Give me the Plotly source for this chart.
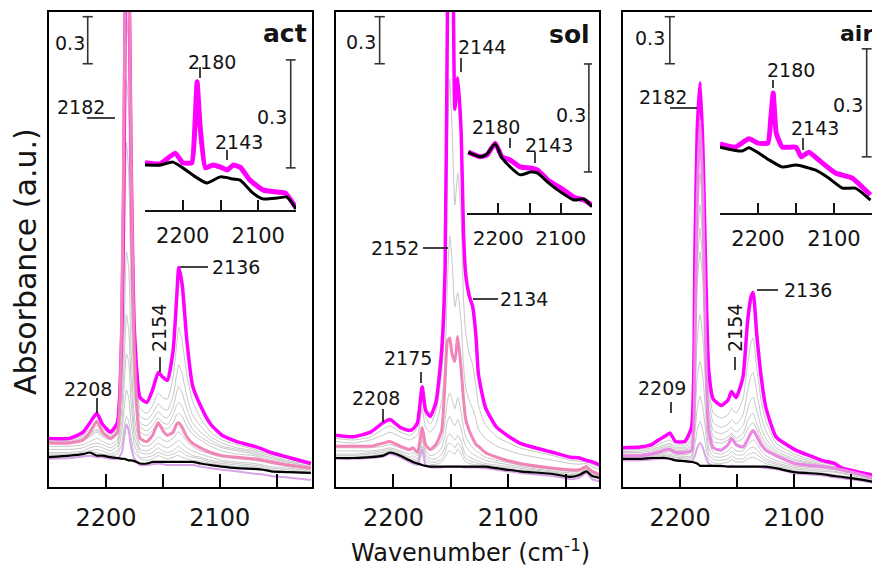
import plotly.graph_objects as go

# ---------------- data (absorbance, a.u.) ----------------
WN_ACT = [2250, 2232, 2220, 2214, 2208, 2203, 2196, 2190, 2186, 2184, 2182, 2180, 2178, 2175, 2170, 2164, 2159, 2154,
          2150, 2146, 2141, 2138, 2136, 2133, 2129, 2124, 2117, 2108, 2098, 2085, 2070, 2062, 2055, 2040, 2020]
ACT_MAGENTA = [0.31, 0.31, 0.35, 0.41, 0.47, 0.40, 0.35, 0.41, 1.00, 2.15, 3.75, 3.43, 2.15, 1.00, 0.57, 0.54, 0.62, 0.73,
               0.70, 0.68, 0.87, 1.19, 1.40, 1.29, 0.94, 0.65, 0.52, 0.40, 0.33, 0.29, 0.26, 0.24, 0.22, 0.19, 0.15]
ACT_PINK = [0.28, 0.28, 0.30, 0.35, 0.42, 0.35, 0.31, 0.35, 1.19, 2.47, 3.75, 3.43, 2.15, 0.87, 0.31, 0.29, 0.33, 0.41,
            0.36, 0.33, 0.35, 0.40, 0.41, 0.38, 0.32, 0.28, 0.25, 0.22, 0.20, 0.19, 0.18, 0.17, 0.16, 0.14, 0.12]
ACT_BLACK = [0.19, 0.20, 0.21, 0.22, 0.20, 0.20, 0.19, 0.185, 0.18, 0.18, 0.175, 0.17, 0.17, 0.165, 0.15, 0.15, 0.16, 0.16,
             0.16, 0.16, 0.16, 0.16, 0.16, 0.16, 0.16, 0.16, 0.15, 0.14, 0.13, 0.12, 0.115, 0.11, 0.10, 0.095, 0.09]
ACT_LAVENDER = [0.18, 0.185, 0.195, 0.20, 0.19, 0.19, 0.18, 0.18, 0.22, 0.32, 0.40, 0.36, 0.26, 0.18, 0.14, 0.14, 0.145, 0.15,
                0.145, 0.14, 0.14, 0.14, 0.14, 0.14, 0.14, 0.14, 0.13, 0.12, 0.11, 0.10, 0.085, 0.08, 0.07, 0.06, 0.045]
ACT_GRAYS = [
    [0.30, 0.30, 0.33, 0.37, 0.42, 0.37, 0.34, 0.40, 1.0, 2.2, 3.6, 3.3, 2.0, 0.9, 0.50, 0.47, 0.52, 0.60, 0.57, 0.56, 0.70, 0.90, 1.02, 0.93, 0.72, 0.55, 0.44, 0.35, 0.30, 0.27, 0.24, 0.22, 0.21, 0.18, 0.15],
    [0.29, 0.29, 0.32, 0.35, 0.39, 0.35, 0.33, 0.38, 0.95, 2.0, 3.4, 3.1, 1.9, 0.85, 0.45, 0.43, 0.47, 0.53, 0.50, 0.49, 0.58, 0.71, 0.78, 0.72, 0.58, 0.46, 0.39, 0.32, 0.28, 0.25, 0.23, 0.21, 0.20, 0.17, 0.14],
    [0.29, 0.29, 0.31, 0.34, 0.37, 0.34, 0.32, 0.36, 0.9, 1.8, 3.0, 2.8, 1.7, 0.8, 0.41, 0.39, 0.43, 0.48, 0.45, 0.44, 0.51, 0.60, 0.64, 0.60, 0.50, 0.41, 0.35, 0.30, 0.26, 0.24, 0.22, 0.20, 0.19, 0.16, 0.13],
    [0.28, 0.28, 0.30, 0.33, 0.36, 0.33, 0.31, 0.35, 0.85, 1.6, 2.6, 2.4, 1.5, 0.7, 0.38, 0.36, 0.39, 0.44, 0.41, 0.40, 0.46, 0.52, 0.54, 0.51, 0.44, 0.37, 0.32, 0.28, 0.25, 0.23, 0.21, 0.19, 0.18, 0.16, 0.13],
    [0.28, 0.28, 0.30, 0.32, 0.35, 0.32, 0.30, 0.34, 0.8, 1.4, 2.2, 2.0, 1.3, 0.6, 0.35, 0.33, 0.36, 0.41, 0.38, 0.37, 0.41, 0.46, 0.47, 0.45, 0.39, 0.34, 0.30, 0.26, 0.23, 0.21, 0.20, 0.18, 0.17, 0.15, 0.12],
    [0.26, 0.26, 0.27, 0.29, 0.31, 0.29, 0.27, 0.30, 0.6, 1.0, 1.5, 1.4, 0.9, 0.45, 0.27, 0.26, 0.28, 0.32, 0.30, 0.29, 0.31, 0.34, 0.35, 0.33, 0.29, 0.26, 0.23, 0.21, 0.19, 0.18, 0.17, 0.16, 0.15, 0.13, 0.11],
    [0.24, 0.24, 0.25, 0.27, 0.28, 0.27, 0.25, 0.28, 0.5, 0.8, 1.1, 1.0, 0.7, 0.38, 0.24, 0.23, 0.25, 0.28, 0.26, 0.25, 0.27, 0.29, 0.30, 0.28, 0.25, 0.23, 0.21, 0.19, 0.17, 0.16, 0.15, 0.14, 0.13, 0.12, 0.10],
    [0.22, 0.22, 0.23, 0.25, 0.26, 0.25, 0.23, 0.26, 0.42, 0.65, 0.85, 0.8, 0.55, 0.32, 0.22, 0.21, 0.22, 0.25, 0.23, 0.22, 0.23, 0.25, 0.26, 0.24, 0.22, 0.20, 0.19, 0.17, 0.16, 0.15, 0.14, 0.13, 0.12, 0.11, 0.09],
    [0.21, 0.21, 0.22, 0.23, 0.24, 0.23, 0.21, 0.23, 0.35, 0.5, 0.62, 0.57, 0.42, 0.27, 0.19, 0.19, 0.20, 0.22, 0.21, 0.20, 0.21, 0.22, 0.23, 0.22, 0.20, 0.19, 0.18, 0.16, 0.15, 0.14, 0.13, 0.12, 0.11, 0.10, 0.09],
    [0.20, 0.20, 0.21, 0.22, 0.22, 0.21, 0.20, 0.21, 0.28, 0.38, 0.45, 0.42, 0.32, 0.22, 0.18, 0.17, 0.18, 0.20, 0.19, 0.18, 0.19, 0.20, 0.20, 0.19, 0.18, 0.17, 0.165, 0.15, 0.14, 0.13, 0.12, 0.11, 0.10, 0.095, 0.085],
]

WN_SOL = [2250, 2235, 2220, 2209, 2203, 2194, 2186, 2183, 2179, 2175, 2172, 2168, 2163, 2158, 2155, 2153, 2151, 2149,
          2146.5, 2144, 2141, 2139, 2137, 2134, 2131, 2128, 2126, 2120, 2110, 2090, 2061, 2046, 2038, 2032, 2027, 2020]
SOL_MAGENTA = [0.33, 0.32, 0.35, 0.41, 0.43, 0.38, 0.36, 0.37, 0.41, 0.64, 0.49, 0.45, 0.54, 0.87, 1.40, 2.98, 3.80, 3.70,
               2.41, 2.61, 2.26, 1.62, 1.35, 1.22, 1.15, 0.95, 0.72, 0.51, 0.38, 0.28, 0.22, 0.19, 0.185, 0.17, 0.16, 0.14]
SOL_PINK = [0.26, 0.26, 0.26, 0.28, 0.29, 0.26, 0.24, 0.25, 0.22, 0.38, 0.27, 0.24, 0.27, 0.36, 0.68, 0.93, 0.95, 0.85,
            0.80, 0.96, 0.75, 0.56, 0.43, 0.36, 0.31, 0.27, 0.26, 0.22, 0.19, 0.15, 0.12, 0.11, 0.11, 0.13, 0.10, 0.077]
SOL_BLACK = [0.185, 0.185, 0.19, 0.20, 0.22, 0.20, 0.17, 0.16, 0.15, 0.14, 0.135, 0.13, 0.13, 0.13, 0.13, 0.13, 0.13, 0.13,
             0.13, 0.13, 0.13, 0.13, 0.13, 0.13, 0.13, 0.13, 0.13, 0.13, 0.12, 0.10, 0.083, 0.064, 0.077, 0.10, 0.07, 0.057]
SOL_LAVENDER = [0.18, 0.18, 0.185, 0.195, 0.21, 0.19, 0.16, 0.15, 0.14, 0.24, 0.14, 0.125, 0.125, 0.125, 0.13, 0.13, 0.13, 0.13,
                0.13, 0.13, 0.13, 0.125, 0.125, 0.125, 0.125, 0.125, 0.125, 0.12, 0.11, 0.09, 0.07, 0.05, 0.06, 0.09, 0.05, 0.035]
SOL_GRAYS = [
    [0.31, 0.30, 0.32, 0.37, 0.39, 0.35, 0.33, 0.34, 0.38, 0.56, 0.45, 0.40, 0.48, 0.72, 1.10, 2.20, 2.60, 2.30, 1.80, 2.00, 1.70, 1.20, 0.98, 0.85, 0.78, 0.64, 0.52, 0.40, 0.32, 0.25, 0.20, 0.17, 0.165, 0.16, 0.145, 0.125],
    [0.29, 0.28, 0.30, 0.33, 0.35, 0.32, 0.30, 0.31, 0.33, 0.50, 0.38, 0.35, 0.40, 0.55, 0.80, 1.30, 1.60, 1.45, 1.15, 1.24, 1.05, 0.78, 0.63, 0.55, 0.50, 0.43, 0.37, 0.31, 0.26, 0.21, 0.17, 0.15, 0.145, 0.15, 0.13, 0.11],
    [0.25, 0.25, 0.25, 0.26, 0.27, 0.25, 0.23, 0.24, 0.22, 0.38, 0.27, 0.23, 0.25, 0.30, 0.42, 0.55, 0.60, 0.56, 0.50, 0.57, 0.48, 0.38, 0.32, 0.28, 0.25, 0.23, 0.22, 0.19, 0.17, 0.14, 0.11, 0.10, 0.10, 0.12, 0.09, 0.07],
    [0.23, 0.23, 0.23, 0.24, 0.25, 0.23, 0.21, 0.22, 0.20, 0.36, 0.24, 0.20, 0.21, 0.25, 0.33, 0.42, 0.45, 0.42, 0.39, 0.43, 0.37, 0.30, 0.26, 0.23, 0.21, 0.20, 0.19, 0.17, 0.155, 0.13, 0.10, 0.09, 0.09, 0.115, 0.085, 0.065],
    [0.21, 0.21, 0.22, 0.23, 0.24, 0.22, 0.19, 0.20, 0.18, 0.33, 0.21, 0.18, 0.18, 0.21, 0.26, 0.32, 0.34, 0.32, 0.30, 0.33, 0.29, 0.24, 0.21, 0.19, 0.18, 0.17, 0.165, 0.15, 0.14, 0.12, 0.095, 0.08, 0.085, 0.11, 0.08, 0.062],
    [0.20, 0.20, 0.21, 0.22, 0.23, 0.21, 0.18, 0.18, 0.17, 0.30, 0.19, 0.16, 0.16, 0.18, 0.22, 0.27, 0.28, 0.27, 0.25, 0.28, 0.25, 0.21, 0.18, 0.17, 0.16, 0.155, 0.15, 0.14, 0.13, 0.11, 0.09, 0.075, 0.08, 0.105, 0.075, 0.06],
    [0.19, 0.19, 0.20, 0.21, 0.22, 0.20, 0.175, 0.17, 0.16, 0.26, 0.17, 0.145, 0.145, 0.16, 0.19, 0.22, 0.23, 0.22, 0.21, 0.24, 0.21, 0.18, 0.16, 0.15, 0.145, 0.14, 0.14, 0.135, 0.125, 0.105, 0.086, 0.07, 0.078, 0.10, 0.072, 0.058],
]

WN_AIR = [2252, 2235, 2225, 2219, 2213, 2209, 2204, 2196, 2190, 2187, 2185, 2182.5, 2180, 2178, 2175, 2171, 2164,
          2158, 2155, 2151, 2145, 2141, 2138, 2136, 2133, 2129, 2125, 2116, 2100, 2076, 2065, 2058, 2040, 2025]
AIR_MAGENTA = [0.25, 0.255, 0.27, 0.30, 0.325, 0.345, 0.29, 0.29, 0.38, 1.51, 2.28, 2.58, 2.15, 1.51, 0.75, 0.56, 0.52,
               0.555, 0.61, 0.57, 0.70, 1.05, 1.21, 1.24, 0.98, 0.70, 0.51, 0.32, 0.24, 0.17, 0.15, 0.12, 0.09, 0.064]
AIR_PINK = [0.20, 0.20, 0.21, 0.22, 0.235, 0.24, 0.22, 0.22, 0.235, 0.87, 1.83, 2.34, 1.83, 1.0, 0.36, 0.25, 0.235,
            0.27, 0.31, 0.27, 0.255, 0.30, 0.345, 0.36, 0.325, 0.27, 0.235, 0.20, 0.15, 0.13, 0.12, 0.11, 0.077, 0.045]
AIR_BLACK = [0.18, 0.18, 0.185, 0.185, 0.185, 0.18, 0.17, 0.165, 0.16, 0.155, 0.15, 0.135, 0.135, 0.135, 0.135, 0.135, 0.135,
             0.13, 0.13, 0.13, 0.13, 0.13, 0.13, 0.13, 0.13, 0.13, 0.13, 0.12, 0.095, 0.083, 0.07, 0.064, 0.045, 0.026]
AIR_LAVENDER = [0.17, 0.17, 0.175, 0.18, 0.18, 0.18, 0.17, 0.165, 0.16, 0.2, 0.25, 0.28, 0.25, 0.2, 0.15, 0.135, 0.13,
                0.13, 0.135, 0.13, 0.13, 0.13, 0.13, 0.13, 0.13, 0.125, 0.12, 0.115, 0.088, 0.075, 0.062, 0.055, 0.038, 0.018]
AIR_GRAYS = [
    [0.235, 0.24, 0.25, 0.27, 0.29, 0.30, 0.27, 0.27, 0.34, 1.2, 1.9, 2.2, 1.85, 1.3, 0.66, 0.47, 0.44, 0.46, 0.50, 0.47, 0.56, 0.78, 0.92, 0.95, 0.77, 0.55, 0.42, 0.28, 0.21, 0.155, 0.14, 0.115, 0.085, 0.06],
    [0.225, 0.23, 0.24, 0.255, 0.27, 0.28, 0.255, 0.255, 0.31, 1.05, 1.7, 2.0, 1.7, 1.2, 0.58, 0.41, 0.38, 0.40, 0.43, 0.40, 0.46, 0.61, 0.71, 0.73, 0.61, 0.45, 0.36, 0.25, 0.195, 0.145, 0.13, 0.11, 0.08, 0.055],
    [0.22, 0.22, 0.23, 0.245, 0.26, 0.27, 0.245, 0.245, 0.29, 0.95, 1.55, 1.8, 1.55, 1.1, 0.50, 0.36, 0.34, 0.36, 0.38, 0.35, 0.39, 0.49, 0.56, 0.57, 0.49, 0.38, 0.31, 0.23, 0.18, 0.14, 0.125, 0.105, 0.078, 0.052],
    [0.21, 0.21, 0.22, 0.235, 0.25, 0.26, 0.235, 0.235, 0.27, 0.9, 1.4, 1.65, 1.4, 1.0, 0.45, 0.32, 0.30, 0.32, 0.345, 0.31, 0.34, 0.42, 0.46, 0.47, 0.41, 0.33, 0.28, 0.215, 0.17, 0.135, 0.12, 0.10, 0.075, 0.05],
    [0.205, 0.205, 0.215, 0.23, 0.245, 0.25, 0.23, 0.23, 0.26, 0.88, 1.3, 1.5, 1.3, 0.95, 0.40, 0.29, 0.28, 0.30, 0.33, 0.29, 0.31, 0.37, 0.40, 0.41, 0.37, 0.30, 0.26, 0.205, 0.16, 0.13, 0.12, 0.10, 0.075, 0.048],
    [0.195, 0.195, 0.20, 0.21, 0.22, 0.225, 0.21, 0.205, 0.22, 0.6, 0.95, 1.1, 0.95, 0.7, 0.30, 0.22, 0.21, 0.23, 0.255, 0.23, 0.23, 0.27, 0.29, 0.30, 0.28, 0.23, 0.20, 0.17, 0.135, 0.12, 0.11, 0.10, 0.07, 0.042],
    [0.19, 0.19, 0.195, 0.20, 0.21, 0.21, 0.20, 0.195, 0.20, 0.45, 0.7, 0.8, 0.7, 0.5, 0.25, 0.195, 0.19, 0.205, 0.225, 0.205, 0.205, 0.235, 0.25, 0.255, 0.24, 0.205, 0.18, 0.155, 0.125, 0.11, 0.10, 0.09, 0.065, 0.04],
    [0.185, 0.185, 0.19, 0.195, 0.20, 0.20, 0.19, 0.185, 0.19, 0.35, 0.5, 0.58, 0.5, 0.38, 0.21, 0.175, 0.17, 0.18, 0.20, 0.18, 0.18, 0.205, 0.215, 0.22, 0.21, 0.185, 0.165, 0.145, 0.115, 0.10, 0.095, 0.085, 0.06, 0.036],
    [0.182, 0.182, 0.187, 0.19, 0.193, 0.193, 0.185, 0.178, 0.18, 0.27, 0.36, 0.42, 0.36, 0.28, 0.18, 0.155, 0.15, 0.16, 0.175, 0.16, 0.16, 0.18, 0.188, 0.19, 0.18, 0.165, 0.15, 0.135, 0.105, 0.09, 0.08, 0.072, 0.052, 0.032],
]

# insets (difference spectra)
INS_ACT_WN_M = [2250, 2230, 2210, 2200, 2188, 2184, 2181, 2177, 2170, 2160, 2150, 2141, 2133, 2124, 2111, 2094, 2075, 2064, 2050]
INS_ACT_M = [0.131, 0.128, 0.158, 0.131, 0.131, 0.231, 0.356, 0.231, 0.117, 0.125, 0.119, 0.111, 0.125, 0.119, 0.083, 0.056, 0.050, 0.047, 0.006]
INS_ACT_WN_B = [2250, 2230, 2213, 2200, 2183, 2168, 2150, 2133, 2124, 2107, 2094, 2075, 2062, 2050]
INS_ACT_B = [0.125, 0.125, 0.133, 0.117, 0.092, 0.075, 0.092, 0.086, 0.083, 0.047, 0.031, 0.033, 0.036, 0.003]

INS_SOL_WN = [2248, 2229, 2218, 2205, 2194, 2181, 2165, 2148, 2137, 2121, 2100, 2079, 2063, 2050]
INS_SOL_M = [0.169, 0.156, 0.161, 0.194, 0.156, 0.147, 0.128, 0.125, 0.119, 0.092, 0.069, 0.044, 0.036, 0.022]
INS_SOL_B = [0.169, 0.156, 0.164, 0.192, 0.153, 0.128, 0.106, 0.114, 0.111, 0.086, 0.058, 0.036, 0.039, 0.017]

INS_AIR_WN_M = [2250, 2230, 2212, 2200, 2187, 2183, 2180, 2176, 2168, 2150, 2143, 2133, 2120, 2098, 2076, 2052]
INS_AIR_M = [0.192, 0.183, 0.206, 0.194, 0.194, 0.267, 0.333, 0.222, 0.183, 0.183, 0.156, 0.169, 0.147, 0.111, 0.097, 0.050]
INS_AIR_WN_B = [2250, 2221, 2212, 2185, 2168, 2150, 2124, 2107, 2089, 2072, 2052]
INS_AIR_B = [0.183, 0.172, 0.181, 0.147, 0.128, 0.133, 0.119, 0.097, 0.069, 0.069, 0.036]

LABELED_TICKS = [2200, 2100]
LABELED_TICKTEXT = ["2200", "2100"]
MINOR_STEP = 50
SCALE = 0.3

# ---------------- styling ----------------
W, H = 880, 568
OFF = 8  # page body margin: the figure starts 8 px in from the window corner
FONT = "DejaVu Sans"
TXT = "#141414"
MAGENTA = "#ff00ff"
PINK = "#f285b7"
PINK_AIR = "#ec86e4"
GRAY = "#c6c6c6"
LAV = "#d9a3e8"


def fx(x):
    return (x - OFF) / W


def fy(y):
    return 1 - (y - OFF) / H


def px(x, y):
    return fx(x), fy(y)


fig = go.Figure()


def add(xs, ys, ax, color, width, smooth=0.5):
    fig.add_trace(go.Scatter(
        x=xs, y=ys, mode="lines", xaxis=ax[0], yaxis=ax[1],
        line=dict(color=color, width=width, shape="spline", smoothing=smooth),
        hoverinfo="skip", showlegend=False))


panels = [
    (("x", "y"), WN_ACT, ACT_GRAYS, ACT_LAVENDER, ACT_BLACK, ACT_MAGENTA, ACT_PINK, PINK),
    (("x2", "y2"), WN_SOL, SOL_GRAYS, SOL_LAVENDER, SOL_BLACK, SOL_MAGENTA, SOL_PINK, PINK),
    (("x3", "y3"), WN_AIR, AIR_GRAYS, AIR_LAVENDER, AIR_BLACK, AIR_MAGENTA, AIR_PINK, PINK_AIR),
]
for ax, wn, grays, lav, blk, mag, pnk, pcol in panels:
    for g in grays:
        add(wn, g, ax, GRAY, 1)
    add(wn, lav, ax, LAV, 2)
    add(wn, blk, ax, "black", 2.2)
    add(wn, mag, ax, MAGENTA, 3.5)
    add(wn, pnk, ax, pcol, 3)

insets = [
    (("x4", "y4"), INS_ACT_WN_M, INS_ACT_M, INS_ACT_WN_B, INS_ACT_B),
    (("x5", "y5"), INS_SOL_WN, INS_SOL_M, INS_SOL_WN, INS_SOL_B),
    (("x6", "y6"), INS_AIR_WN_M, INS_AIR_M, INS_AIR_WN_B, INS_AIR_B),
]
for ax, wm, m, wb, b in insets:
    add(wm, m, ax, MAGENTA, 5, 0.4)
    add(wb, b, ax, "black", 3, 0.6)

YDOM = [fy(487), fy(12)]


def main_x(x0, x1, rng, anchor):
    return dict(domain=[fx(x0), min(1.0, fx(x1))], range=rng, anchor=anchor, showline=True, linecolor="black",
                linewidth=2, mirror=True, ticks="inside", ticklen=13, tickwidth=2, tickcolor="black",
                tickmode="array", tickvals=LABELED_TICKS, ticktext=LABELED_TICKTEXT, tickangle=0,
                minor=dict(ticks="inside", ticklen=13, tickwidth=2, tickcolor="black", tick0=2050,
                           dtick=MINOR_STEP, showgrid=False),
                tickfont=dict(family=FONT, size=24, color=TXT), showgrid=False, zeroline=False,
                ticklabelstandoff=8, automargin=False)


def main_y(anchor, mirror=True):
    return dict(domain=YDOM, range=[0, 3.03], anchor=anchor, showline=True, linecolor="black", linewidth=2,
                mirror=mirror, showticklabels=False, ticks="", showgrid=False, zeroline=False, automargin=False)


def inset_x(x0, x1, anchor, size=21):
    return dict(domain=[fx(x0), fx(x1)], range=[2250, 2050], anchor=anchor, showline=True, linecolor=TXT,
                linewidth=2, ticks="inside", ticklen=10, tickwidth=2, tickcolor=TXT, tickmode="array",
                tickvals=LABELED_TICKS, ticktext=LABELED_TICKTEXT, tickangle=0,
                minor=dict(ticks="inside", ticklen=10, tickwidth=2, tickcolor=TXT, tick0=2050,
                           dtick=MINOR_STEP, showgrid=False),
                tickfont=dict(family=FONT, size=size, color=TXT),
                showgrid=False, zeroline=False, ticklabelstandoff=6, automargin=False)


def inset_y(axis_px, anchor):
    return dict(domain=[fy(axis_px), fy(40)], range=[0, (axis_px - 40) / 360], anchor=anchor,
                visible=False)


annotations = []
shapes = []


def txt(x, y, s, size=19, angle=0, xanchor="center"):
    xx, yy = px(x, y)
    annotations.append(dict(x=xx, y=yy, xref="paper", yref="paper", text=s, showarrow=False,
                            font=dict(family=FONT, size=size, color=TXT), xanchor=xanchor,
                            yanchor="middle", textangle=angle, borderpad=0))


def seg(x0, y0, x1, y1, w=1.6):
    a, b = px(x0, y0), px(x1, y1)
    shapes.append(dict(type="line", xref="paper", yref="paper", x0=a[0], y0=a[1], x1=b[0], y1=b[1],
                       line=dict(color=TXT, width=w)))


def scalebar(xr, yr, xc, y0, half):
    ln = dict(color="#333333", width=1.6)
    shapes.append(dict(type="line", xref=xr, yref=yr, x0=xc, x1=xc, y0=y0, y1=y0 + SCALE, line=ln))
    for yy in (y0, y0 + SCALE):
        shapes.append(dict(type="line", xref=xr, yref=yr, x0=xc - half, x1=xc + half, y0=yy, y1=yy, line=ln))


# scale bars
scalebar("x", "y", 2216, 2.70, 4.5)
scalebar("x2", "y2", 2212, 2.70, 4.5)
scalebar("x3", "y3", 2209, 2.70, 4.5)
scalebar("x4", "y4", 2057, 0.117, 6.5)
scalebar("x5", "y5", 2055, 0.114, 8)
scalebar("x6", "y6", 2057, 0.156, 6.5)

# --- act panel labels
txt(70, 43, "0.3")
txt(262, 33, "<b>act</b>", size=25, xanchor="left")
txt(81, 107, "2182"); seg(87, 118, 115, 118)
txt(212, 62, "2180"); seg(200, 67, 200, 78)
txt(239, 142, "2143"); seg(227, 150, 227, 160)
txt(272, 117, "0.3")
txt(88, 389, "2208"); seg(97, 398, 97, 413)
txt(159, 328, "2154", angle=-90); seg(160, 357, 160, 372)
seg(180, 267, 208, 267); txt(236, 267, "2136")

# --- sol panel labels
txt(361, 42, "0.3")
txt(548, 35, "<b>sol</b>", size=25, xanchor="left")
txt(482, 47, "2144"); seg(461, 58, 461, 72)
txt(395, 248, "2152"); seg(423, 248, 448, 248)
seg(473, 299, 498, 299); txt(524, 299, "2134")
txt(408, 358, "2175"); seg(421, 372, 421, 383)
txt(376, 398, "2208"); seg(383, 409, 383, 422)
txt(571, 115, "0.3")
txt(496, 127, "2180"); seg(510, 138, 510, 148)
txt(549, 145, "2143"); seg(535, 152, 535, 163)

# --- air panel labels
txt(650, 38, "0.3")
txt(839, 33, "<b>air</b>", size=22, xanchor="left")
txt(663, 97, "2182"); seg(670, 108, 697, 108)
txt(662, 388, "2209"); seg(671, 402, 671, 413)
txt(735, 328, "2154", angle=-90); seg(735, 357, 735, 370)
seg(757, 290, 778, 290); txt(808, 290, "2136")
txt(791, 70, "2180"); seg(773, 80, 773, 88)
txt(815, 128, "2143"); seg(803, 138, 803, 150)
txt(848, 105, "0.3")

# --- axis titles
txt(26, 262, "Absorbance (a.u.)", size=30, angle=-90)
txt(470, 551, "Wavenumber (cm<sup>-1</sup>)", size=24)

fig.update_layout(
    width=W, height=H, margin=dict(l=0, r=0, t=0, b=0),
    paper_bgcolor="white", plot_bgcolor="rgba(0,0,0,0)",
    showlegend=False,
    xaxis=main_x(49, 312, [2250, 2019], "y"), yaxis=main_y("x"),
    xaxis2=main_x(336, 599, [2250, 2021], "y2"), yaxis2=main_y("x2"),
    xaxis3=main_x(623, 880, [2250, 2025], "y3"), yaxis3=main_y("x3", mirror=False),
    xaxis4=inset_x(145, 296, "y4"), yaxis4=inset_y(210, "x4"),
    xaxis5=inset_x(467, 592, "y5", size=20), yaxis5=inset_y(213, "x5"),
    xaxis6=inset_x(720, 872, "y6"), yaxis6=inset_y(213, "x6"),
    annotations=annotations, shapes=shapes,
)

fig.write_html("out.html")
